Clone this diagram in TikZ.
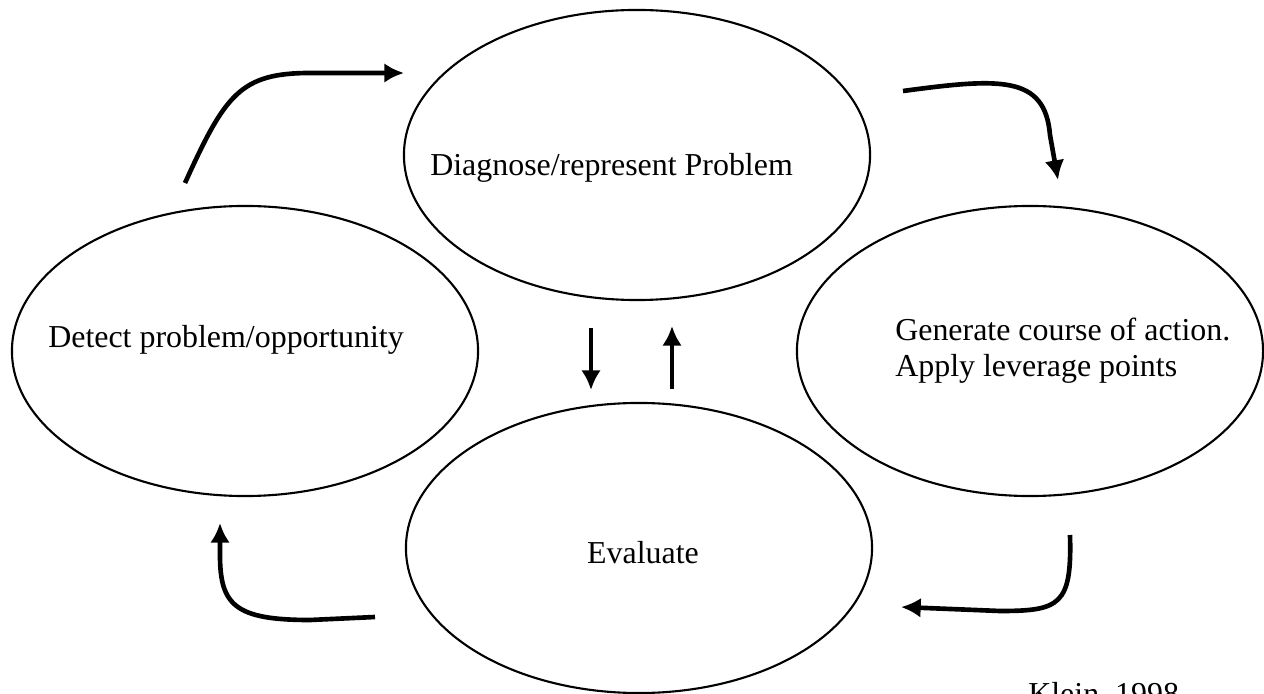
\documentclass[tikz,border=0pt]{standalone}
\usepackage{fontspec}
\setmainfont{Liberation Serif}
\usepackage{tikz}
\usetikzlibrary{shapes, arrows.meta}
\tikzset{>={Latex[length=14pt,width=14pt]}}
\tikzset{bubble/.style={draw, line width=1.5pt, ellipse, inner sep=0pt,
    minimum width=11.65cm, minimum height=7.25cm},
  flow/.style={->, line width=3.3pt},
  txt/.style={inner sep=0pt, font=\fontsize{22.7pt}{25.6pt}\selectfont}}

\begin{document}
\begin{tikzpicture}[x=0.025cm, y=-0.025cm]
\useasboundingbox (0,0) rectangle (1264,694);
% the four stages
\node[bubble] (diag) at (637,155) {};
\node[bubble] (detect) at (245,351) {};
\node[bubble] (gen) at (1030,351) {};
\node[bubble] (eval) at (639,548) {};
\node[txt, anchor=base west] (diagtxt) at (430,176) {Diagnose/represent Problem};
\node[txt, anchor=base west] (detecttxt) at (48,348) {Detect problem/opportunity};
\node[txt, anchor=west, align=left] (gentxt) at (895,351) {Generate course of action.\\Apply leverage points};
\node[txt, anchor=base] (evaltxt) at (643,563) {Evaluate};
\node[txt, anchor=base west] (klein) at (1028,704) {Klein, 1998};
% ends of the arrows
\coordinate (a1) at (185,183);
\coordinate (b1) at (404,73);
\coordinate (a2) at (903,91);
\coordinate (b2) at (1058,180);
\coordinate (a3) at (591,328);
\coordinate (b3) at (591,390);
\coordinate (a4) at (672,389);
\coordinate (b4) at (672,326);
\coordinate (a5) at (1070,535);
\coordinate (b5) at (901,607);
\coordinate (a6) at (375,617);
\coordinate (b6) at (220,523);
% the cycle
\draw[flow] (a1) .. controls (225,95) and (240,73) .. (310,73) -- (b1);
\draw[flow] (a2) .. controls (1000,78) and (1045,75) .. (1050,135) -- (b2);
\draw[flow] (a3) -- (b3);
\draw[flow] (a4) -- (b4);
\draw[flow] (a5) .. controls (1072,605) and (1060,611) .. (1000,611) -- (b5);
\draw[flow] (a6) -- (310,620) .. controls (235,620) and (220,605) .. (220,555) -- (b6);
\end{tikzpicture}
\end{document}
